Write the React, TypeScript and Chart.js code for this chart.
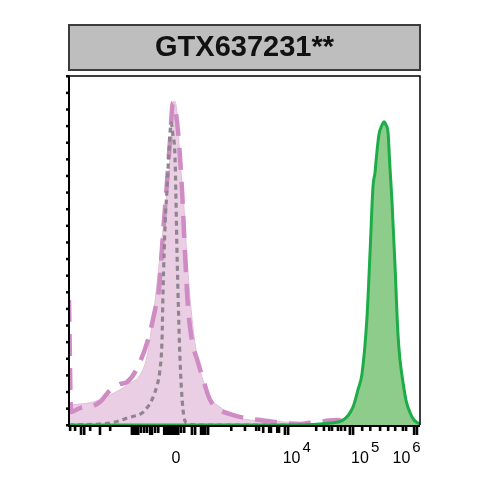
import React, { useEffect, useRef } from "react";
import { Chart, registerables } from "chart.js";
Chart.register(...registerables);

const TITLE = "GTX637231**";

// x in display channels (0..1000, biexponential display), y in % of max
const sampleFillX = [0, 31, 68, 117, 174, 202, 222, 242, 259, 274, 288, 293, 299, 305, 311, 316, 328, 336, 348, 365, 387, 407, 430, 467, 516, 573, 658, 744, 829, 1000];
const sampleFillY = [6.0, 6.3, 6.9, 9.0, 12.6, 15.0, 20.5, 34.6, 50.6, 64.7, 80.6, 90.3, 97.5, 96.3, 88.8, 80.6, 64.7, 50.6, 34.6, 20.5, 12.0, 7.5, 5.4, 2.7, 1.5, 1.2, 0.6, 0.3, 0, 0];

const dashedX = [0, 6, 31, 68, 88, 117, 145, 165, 188, 225, 245, 256, 268, 279, 288, 296, 302, 311, 322, 330, 339, 350, 368, 387, 402, 430, 459, 501, 544, 610, 658, 695, 729, 764, 786, 815, 1000];
const dashedY = [37.6, 3.9, 5.1, 5.7, 6.9, 10.5, 12.3, 12.9, 15.9, 25.6, 34.6, 40.6, 57.8, 72.8, 85.8, 96.9, 95.4, 87.9, 70.7, 52.7, 35.5, 25.6, 18.7, 12.0, 7.5, 4.5, 3.3, 2.1, 1.5, 0.6, 0.3, 0.9, 1.2, 1.5, 0.9, 0, 0];

const dottedX = [0, 117, 165, 222, 251, 259, 265, 268, 274, 279, 285, 291, 296, 302, 308, 316, 325, 336, 373, 1000];
const dottedY = [0, 0.6, 2.1, 5.1, 12.0, 16.5, 25.6, 40.6, 60.8, 70.7, 82.7, 90.9, 87.3, 80.6, 50.6, 20.5, 4.5, 0.6, 0, 0];

const greenX = [0, 658, 715, 744, 781, 809, 823, 835, 849, 858, 866, 872, 875, 883, 892, 897, 903, 909, 914, 920, 929, 937, 943, 952, 960, 972, 983, 994, 1000];
const greenY = [0, 0, 0.3, 0.6, 1.5, 5.4, 10.5, 15.6, 32.5, 52.7, 71.6, 76.1, 79.7, 87.3, 90.3, 91.2, 90.3, 87.9, 78.2, 67.7, 47.5, 27.7, 19.6, 12.6, 7.5, 3.6, 1.5, 0.6, 0.3];

// axis decorations
const yTickValues = [0, 5, 10, 15, 20, 25, 30, 35, 40, 45, 50, 55, 60, 65, 70, 75, 80, 85, 90, 95, 100, 105];
const xTickValues = [3, 17, 34, 43, 60, 88, 117, 179, 185, 191, 197, 205, 214, 222, 231, 236, 245, 254, 271, 276, 282, 288, 293, 299, 305, 311, 319, 328, 350, 359, 376, 382, 388, 396, 462, 501, 533, 541, 553, 570, 575, 593, 598, 615, 624, 704, 726, 741, 749, 766, 775, 786, 800, 809, 835, 858, 886, 909, 929, 951, 960, 983, 991];
const xTickLens = [4, 4, 8, 8, 4, 8, 4, 8, 8, 8, 8, 6, 6, 6, 8, 8, 6, 6, 8, 8, 8, 8, 8, 8, 8, 8, 6, 6, 8, 8, 8, 8, 8, 8, 4, 4, 4, 4, 6, 6, 6, 6, 6, 8, 8, 4, 4, 4, 4, 4, 4, 4, 8, 8, 4, 4, 4, 4, 4, 4, 4, 8, 8];
const xLabelValues = [305, 634, 829, 947];
const xLabelBases = ["0", "10", "10", "10"];
const xLabelExps = ["", "4", "5", "6"];

const pts = (xs: number[], ys: number[]) => xs.map((x, i) => ({ x, y: ys[i] }));

const decor = {
  id: "decor",
  afterDraw(chart: any) {
    const { ctx, chartArea: a, scales } = chart;
    const xs = scales.x;
    const ys = scales.y;
    ctx.save();
    // title box
    ctx.fillStyle = "#bebebe";
    ctx.fillRect(a.left, a.top - 51, a.right - a.left, 45);
    ctx.strokeStyle = "#3c3c3c";
    ctx.lineWidth = 2;
    ctx.strokeRect(a.left, a.top - 51, a.right - a.left, 45);
    ctx.fillStyle = "#111";
    ctx.font = "bold 29px 'Liberation Sans', Arial, sans-serif";
    ctx.textAlign = "center";
    ctx.textBaseline = "middle";
    ctx.fillText(TITLE, (a.left + a.right) / 2, a.top - 28);

    // frame
    ctx.strokeStyle = "#000";
    ctx.lineWidth = 1.5;
    ctx.beginPath();
    ctx.moveTo(a.left, a.top);
    ctx.lineTo(a.right, a.top);
    ctx.lineTo(a.right, a.bottom);
    ctx.stroke();
    ctx.lineWidth = 2;
    ctx.beginPath();
    ctx.moveTo(a.left, a.top);
    ctx.lineTo(a.left, a.bottom + 1);
    ctx.lineTo(a.right, a.bottom + 1);
    ctx.stroke();

    // y ticks
    ctx.fillStyle = "#000";
    yTickValues.forEach((v) => {
      const py = ys.getPixelForValue(v);
      ctx.fillRect(a.left - 3, py - 1, 3, 2.5);
    });
    // x ticks
    xTickValues.forEach((v, i) => {
      const px = xs.getPixelForValue(v);
      ctx.fillRect(px - 1.2, a.bottom, 2.6, xTickLens[i] + 2);
    });
    // x labels
    ctx.textBaseline = "alphabetic";
    xLabelValues.forEach((v, i) => {
      const px = xs.getPixelForValue(v);
      ctx.font = "16px 'Liberation Sans', Arial, sans-serif";
      ctx.textAlign = "center";
      ctx.fillText(xLabelBases[i], px, a.bottom + 38);
      if (xLabelExps[i]) {
        const w = ctx.measureText(xLabelBases[i]).width;
        ctx.font = "15px 'Liberation Sans', Arial, sans-serif";
        ctx.textAlign = "left";
        ctx.fillText(xLabelExps[i], px + w / 2 + 2, a.bottom + 27);
      }
    });
    ctx.restore();
  },
};

export default function App() {
  const ref = useRef<HTMLCanvasElement>(null);
  useEffect(() => {
    if (!ref.current) return;
    const chart = new Chart(ref.current, {
      type: "line",
      data: {
        datasets: [
          {
            label: "sample",
            data: pts(sampleFillX, sampleFillY),
            fill: "origin",
            backgroundColor: "rgb(234, 207, 228)",
            borderColor: "rgb(226, 190, 219)",
            borderWidth: 1,
            pointRadius: 0,
            cubicInterpolationMode: "monotone",
            order: 5,
          },
          {
            label: "control",
            data: pts(dashedX, dashedY),
            fill: false,
            borderColor: "rgb(207, 139, 196)",
            borderWidth: 4.5,
            borderDash: [22, 12],
            pointRadius: 0,
            cubicInterpolationMode: "monotone",
            order: 4,
          },
          {
            label: "isotype",
            data: pts(dottedX, dottedY),
            fill: false,
            borderColor: "rgb(143, 133, 142)",
            borderWidth: 3.2,
            borderDash: [5, 4],
            pointRadius: 0,
            cubicInterpolationMode: "monotone",
            order: 3,
          },
          {
            label: "positive",
            data: pts(greenX, greenY),
            fill: "origin",
            backgroundColor: "rgb(142, 204, 139)",
            borderColor: "rgb(30, 172, 72)",
            borderWidth: 3,
            pointRadius: 0,
            cubicInterpolationMode: "monotone",
            order: 1,
          },
        ],
      },
      options: {
        responsive: false,
        animation: false,
        layout: { padding: { left: 69, right: 70, top: 76, bottom: 65 } },
        plugins: { legend: { display: false }, tooltip: { enabled: false }, title: { display: false } },
        scales: {
          x: { type: "linear", min: 0, max: 1000, display: false },
          y: { type: "linear", min: 0, max: 105, display: false },
        },
      },
      plugins: [decor],
    });
    return () => chart.destroy();
  }, []);
  return (
    <div style={{ position: "absolute", left: 0, top: 0, width: 490, height: 490, background: "#fff" }}>
      <canvas ref={ref} width={490} height={490} />
    </div>
  );
}
